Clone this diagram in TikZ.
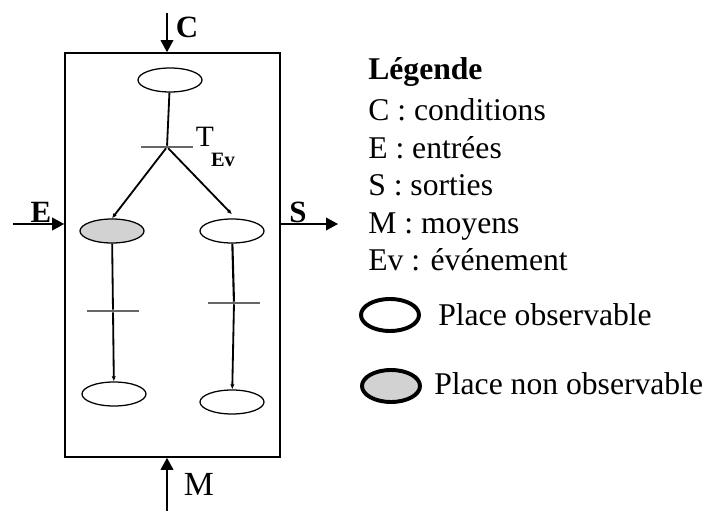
\documentclass[tikz,border=0pt]{standalone}
\usepackage{fontspec}
\setmainfont{Liberation Serif}
\usetikzlibrary{arrows.meta,shapes.geometric}

\tikzset{
  place/.style={shape=ellipse, draw=black, line width=0.9pt, fill=white,
    minimum width=1.6cm, minimum height=0.6cm, inner sep=0pt},
  hidden/.style={place, fill=gray!35},
  trans/.style={shape=rectangle, fill=black!60, minimum width=1.3cm,
    minimum height=1.4pt, inner sep=0pt},
  io/.style={-{Triangle[length=8.5pt,width=9pt]}, line width=1pt},
  arc/.style={-{Latex[length=3.5pt,width=3pt]}, line width=1.3pt},
  lbl/.style={font=\fontsize{22}{26}\selectfont\bfseries, anchor=base, inner sep=0pt},
  leg/.style={font=\fontsize{22.5}{26}\selectfont, anchor=base west, inner sep=0pt},
  legplace/.style={shape=ellipse, draw=black, line width=2.8pt, fill=white,
    minimum width=1.45cm, minimum height=0.8cm, inner sep=0pt}
}

\begin{document}
\begin{tikzpicture}[x=0.025cm,y=-0.025cm]
\useasboundingbox (0,0) rectangle (705,511);

% system box
\node[shape=rectangle,draw=black,line width=1.1pt,minimum width=5.375cm,minimum height=10.1cm,inner sep=0pt] (sys) at (172.5,255) {};

% places and transitions
\node[place] (p0) at (170,80) {};
\node[trans] (t0) at (167,147) {};
\node[hidden] (pL) at (112,231) {};
\node[place] (pR) at (232,231) {};
\node[trans] (tL) at (113,311) {};
\node[trans] (tR) at (234,303) {};
\node[place] (pL2) at (114,394) {};
\node[place] (pR2) at (232,402) {};

\path (p0) edge[line width=1.3pt] (t0);
\path (t0) edge[arc] (pL.north);
\path (t0) edge[arc] ([yshift=0.1cm]pR.north);
\path (pL) edge[line width=1.3pt] (tL);
\path (tL) edge[arc] (pL2);
\path (pR) edge[line width=1.5pt] (tR);
\path (tR) edge[arc] (pR2);

\node[font=\fontsize{21}{24}\selectfont, anchor=base, inner sep=0pt] (T) at (205,147) {T};
\node[font=\fontsize{14.5}{16}\selectfont\bfseries, anchor=base, inner sep=0pt] (Ev) at (223,167) {Ev};

% inputs and outputs
\coordinate (cIn) at (167,13);
\coordinate (eIn) at (13,224);
\coordinate (sOut) at (338,224);
\coordinate (mIn) at (167,511);
\draw[io] (cIn) -- (cIn |- sys.north);
\draw[io] (eIn) -- (eIn -| sys.west);
\draw[io] (sOut -| sys.east) -- (sOut);
\draw[io] (mIn) -- (mIn |- sys.south);

\node[lbl] (C) at (187,38) {C};
\node[lbl] (E) at (41,223) {E};
\node[lbl] (S) at (298,223) {S};
\node[lbl, font=\fontsize{24}{28}\selectfont] (M) at (199,495) {M};

% legend
\node[leg, font=\fontsize{22.5}{26}\selectfont\bfseries] (leg0) at (368,80) {Légende};
\node[leg] (leg1) at (368,121) {C : conditions};
\node[leg] (leg2) at (368,158.5) {E : entrées};
\node[leg] (leg3) at (368,196) {S : sorties};
\node[leg] (leg4) at (368,233.5) {M : moyens};
\node[leg] (leg5) at (368,271) {Ev : événement};

\node[legplace] (obs) at (390,315) {};
\node[leg] (obsTxt) at (438,326) {Place observable};
\node[legplace, fill=gray!35] (nobs) at (391,386) {};
\node[leg] (nobsTxt) at (434,395) {Place non observable};
\end{tikzpicture}
\end{document}
